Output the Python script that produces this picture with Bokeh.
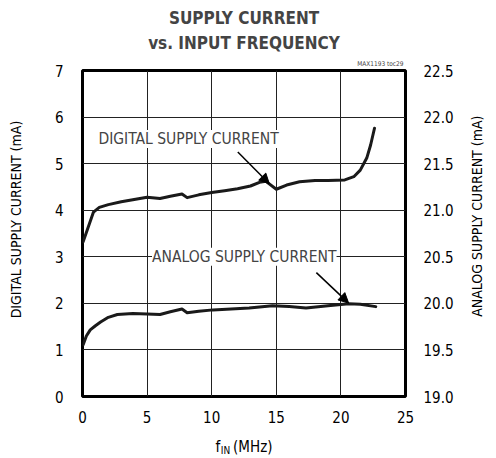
import math
from bokeh.plotting import figure
from bokeh.models import (Range1d, LinearAxis, FixedTicker, Label, Arrow,
                          NormalHead, PrintfTickFormatter, Title)
from bokeh.embed import file_html
from bokeh.resources import INLINE

# ---- data ----
freq_digital = [0.05, 0.4, 0.85, 1.3, 2.0, 3.0, 4.0, 5.0, 6.0, 6.8, 7.7, 8.1,
                9.0, 10.0, 11.0, 12.0, 13.0, 13.7, 14.2, 15.0, 15.8, 16.8,
                18.0, 19.0, 20.3, 21.0, 21.5, 22.0, 22.3, 22.6]
digital_ma = [3.32, 3.60, 3.96, 4.06, 4.12, 4.18, 4.23, 4.28, 4.25, 4.30, 4.35,
              4.27, 4.33, 4.38, 4.42, 4.46, 4.52, 4.60, 4.62, 4.45, 4.54, 4.61,
              4.64, 4.64, 4.65, 4.72, 4.86, 5.12, 5.40, 5.76]

freq_analog = [0.05, 0.3, 0.6, 1.0, 1.4, 2.0, 2.7, 3.9, 5.0, 6.0, 6.8, 7.7,
               8.1, 9.0, 10.1, 11.5, 12.9, 14.7, 16.0, 17.3, 19.0, 20.6,
               21.5, 22.7]
analog_ma = [19.555, 19.65, 19.715, 19.76, 19.80, 19.85, 19.88, 19.89, 19.885,
             19.88, 19.91, 19.94, 19.90, 19.915, 19.93, 19.94, 19.95, 19.975,
             19.965, 19.95, 19.975, 19.995, 19.99, 19.965]

x_ticks = [0, 5, 10, 15, 20, 25]
left_ticks = [0, 1, 2, 3, 4, 5, 6, 7]
right_ticks = [19.0, 19.5, 20.0, 20.5, 21.0, 21.5, 22.0, 22.5]

title_lines = ["SUPPLY CURRENT", "vs. INPUT FREQUENCY"]
left_label = "DIGITAL SUPPLY CURRENT (mA)"
right_label = "ANALOG SUPPLY CURRENT (mA)"
x_label_main = ("f", "(MHz)")
x_label_sub = "IN"
digital_note = "DIGITAL SUPPLY CURRENT"
analog_note = "ANALOG SUPPLY CURRENT"
code_note = "MAX1193 toc29"

FONT = "'DejaVu Sans Condensed', 'DejaVu Sans', sans-serif"
NBSP = "\u00a0"

p = figure(width=496, height=458, x_range=Range1d(0, 25), y_range=Range1d(0, 7),
           output_backend="svg", toolbar_location=None,
           min_border_left=82, min_border_right=89,
           min_border_top=70, min_border_bottom=61)
p.extra_y_ranges = {"analog": Range1d(19.0, 22.5)}
p.background_fill_color = "white"
p.border_fill_color = "white"
p.outline_line_color = "black"
p.outline_line_width = 3


def style_axis(ax, size="15px"):
    ax.axis_line_color = None
    ax.major_tick_line_color = None
    ax.minor_tick_line_color = None
    ax.major_tick_out = 0
    ax.major_tick_in = 0
    ax.minor_tick_out = 0
    ax.minor_tick_in = 0
    ax.major_label_text_font = FONT
    ax.major_label_text_font_size = size
    ax.major_label_text_color = "black"
    ax.axis_label_text_font = FONT
    ax.axis_label_text_font_style = "normal"
    ax.axis_label_text_color = "black"


# numeric axes
xaxis = p.xaxis[0]
yaxis = p.yaxis[0]
right_axis = LinearAxis(y_range_name="analog")
p.add_layout(right_axis, "right")
for ax in (xaxis, yaxis, right_axis):
    style_axis(ax)

xaxis.ticker = FixedTicker(ticks=x_ticks)
yaxis.ticker = FixedTicker(ticks=left_ticks)
right_axis.ticker = FixedTicker(ticks=right_ticks)
right_axis.formatter = PrintfTickFormatter(format="%.1f")
xaxis.major_label_standoff = 14
yaxis.major_label_standoff = 19
right_axis.major_label_standoff = 18

# left axis title (lifted a little with leading no-break spaces)
yaxis.axis_label = NBSP * 7 + left_label
yaxis.axis_label_text_font_size = "14px"
yaxis.axis_label_standoff = 28

# right axis title: a rotated single tick label reading bottom-to-top
right_title_axis = LinearAxis(ticker=FixedTicker(ticks=[1.71]),
                              major_label_overrides={1.71: right_label})
style_axis(right_title_axis, "14px")
right_title_axis.major_label_orientation = math.pi / 2
right_title_axis.major_label_standoff = 21
p.add_layout(right_title_axis, "right")

# x axis title: "f (MHz)" on the tick axis, subscript "IN" on a second axis
xaxis.axis_label = x_label_main[0] + NBSP * 3 + x_label_main[1]
xaxis.axis_label_text_font_size = "15px"
xaxis.axis_label_standoff = 12
x_title_axis = LinearAxis(ticker=FixedTicker(ticks=[]))
style_axis(x_title_axis)
x_title_axis.major_label_standoff = 0
x_title_axis.axis_label = x_label_sub + NBSP * 13
x_title_axis.axis_label_text_font_size = "10px"
x_title_axis.axis_label_standoff = -14
p.add_layout(x_title_axis, "below")

p.xgrid.ticker = FixedTicker(ticks=x_ticks)
p.ygrid.ticker = FixedTicker(ticks=left_ticks)
p.grid.grid_line_color = "#222222"
p.grid.grid_line_width = 1

p.line(freq_digital, digital_ma, line_width=3, line_color="#1a1a1a",
       line_join="round", line_cap="round")
p.line(freq_analog, analog_ma, y_range_name="analog", line_width=3,
       line_color="#1a1a1a", line_join="round", line_cap="round")

# title block (first added sits closest to the plot)
p.add_layout(Title(text=code_note, text_font=FONT, text_font_size="6.5px",
                   text_font_style="normal", align="right", offset=2,
                   standoff=5), "above")
p.add_layout(Title(text=title_lines[1], text_font=FONT, text_font_size="17px",
                   text_font_style="bold", align="center", standoff=6), "above")
p.add_layout(Title(text=title_lines[0], text_font=FONT, text_font_size="17px",
                   text_font_style="bold", align="center", standoff=0), "above")

# annotations
p.add_layout(Label(x=1.23, y=5.53, text=digital_note, text_font=FONT,
                   text_font_size="15.5px", text_align="left",
                   text_baseline="middle", background_fill_color="white"))
p.add_layout(Label(x=5.38, y=3.0, text=analog_note, text_font=FONT,
                   text_font_size="15.5px", text_align="left",
                   text_baseline="middle", background_fill_color="white"))
p.add_layout(Arrow(end=NormalHead(size=10, fill_color="black", line_color="black"),
                   x_start=12.02, y_start=5.25, x_end=14.46, y_end=4.57,
                   line_width=1.5, line_color="black"))
p.add_layout(Arrow(end=NormalHead(size=10, fill_color="black", line_color="black"),
                   x_start=18.1, y_start=2.66, x_end=20.6, y_end=2.005,
                   line_width=1.5, line_color="black"))

open("out.html", "w").write(file_html(p, INLINE))
